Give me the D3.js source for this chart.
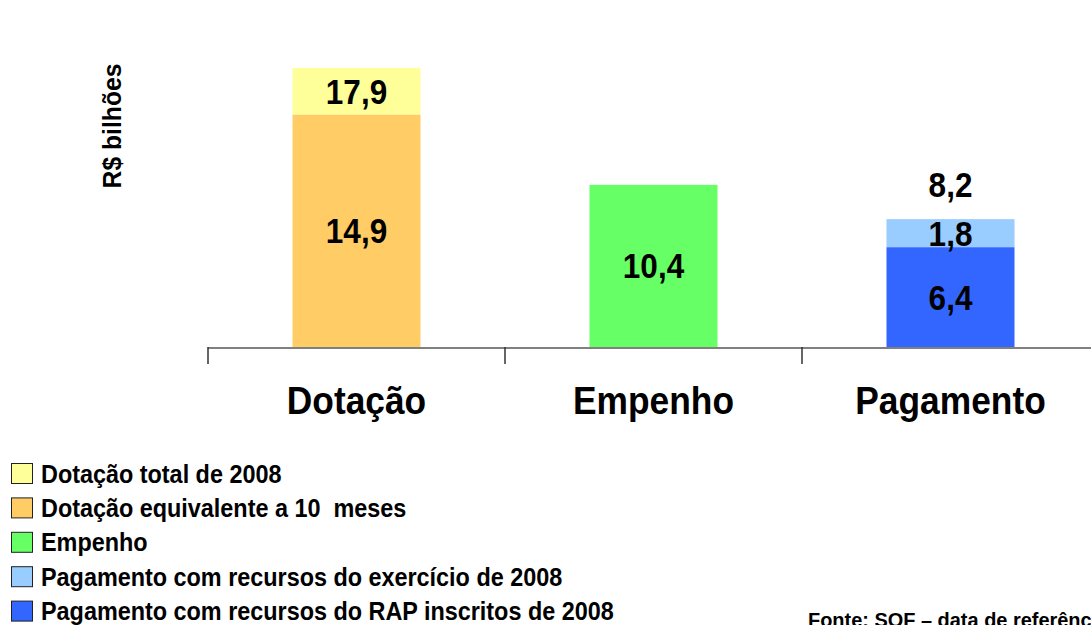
<!DOCTYPE html>
<html>
<head>
<meta charset="utf-8">
<script src="https://cdn.jsdelivr.net/npm/d3@7"></script>
<style>
    body { margin: 0; background: #fff; }
    text { font-family: "Liberation Sans", Arial, sans-serif; font-weight: bold; fill: #000; white-space: pre; }
</style>
</head>
<body>
<div id="chart"></div>
<script>
// Categories and stacked segments (R$ bilhões)
const categories = ["Dotação", "Empenho", "Pagamento"];
const seriesNames = [
    "Dotação total de 2008",
    "Dotação equivalente a 10  meses",
    "Empenho",
    "Pagamento com recursos do exercício de 2008",
    "Pagamento com recursos do RAP inscritos de 2008"
];
const seriesColors = ["#FFFF99", "#FFCC66", "#66FF66", "#99CCFF", "#3366FF"];
// one entry per stacked segment
const segCategory = ["Dotação", "Dotação", "Empenho", "Pagamento", "Pagamento"];
const segStart = [14.9, 0, 0, 6.4, 0];
const segEnd = [17.9, 14.9, 10.4, 8.2, 6.4];
const segLabels = ["17,9", "14,9", "10,4", "1,8", "6,4"];
const totalCategory = ["Pagamento"];
const totalValues = [8.2];
const totalLabels = ["8,2"];

const width = 1091, height = 625;
const baseY = 347;

const svg = d3.select("#chart")
    .append("svg")
    .attr("width", width)
    .attr("height", height);

const x = d3.scaleBand()
    .domain(categories)
    .range([208, 1099])
    .padding(0);

const y = d3.scaleLinear()
    .domain([0, 22])
    .range([baseY, 4]);

// text squeezed horizontally a bit, like the original slide font
function squeezed(parent, px, py, str, size, sx, anchor, rotate) {
    const g = parent.append("g")
        .attr("transform", `translate(${px},${py})` + (rotate ? ` rotate(${rotate})` : "") + ` scale(${sx},1)`);
    return g.append("text")
        .attr("text-anchor", anchor || "start")
        .attr("xml:space", "preserve")
        .style("font-size", size + "px")
        .text(str);
}

const barWidth = 128;
const segments = segStart.map((s, i) => ({
    cat: segCategory[i], start: s, end: segEnd[i], label: segLabels[i], color: seriesColors[i]
}));

// Bars
svg.selectAll("rect.seg")
    .data(segments)
    .enter()
    .append("rect")
    .attr("class", "seg")
    .attr("x", d => x(d.cat) + x.bandwidth() / 2 - barWidth / 2)
    .attr("y", d => y(d.end))
    .attr("width", barWidth)
    .attr("height", d => y(d.start) - y(d.end))
    .attr("fill", d => d.color);

// Segment labels
segments.forEach(d => {
    squeezed(svg, x(d.cat) + x.bandwidth() / 2, (y(d.start) + y(d.end)) / 2 + 12.5, d.label, 35, 0.9, "middle");
});

// Total label above Pagamento
totalValues.forEach((v, i) => {
    squeezed(svg, x(totalCategory[i]) + x.bandwidth() / 2, y(v) - 22, totalLabels[i], 35, 0.9, "middle");
});

// Axis line and ticks at band boundaries
svg.append("line")
    .attr("x1", 208).attr("x2", width)
    .attr("y1", baseY + 1).attr("y2", baseY + 1)
    .attr("stroke", "#808080")
    .attr("stroke-width", 2);

const tickX = categories.map(c => x(c)).concat([x.range()[1]]);
svg.selectAll("line.tick")
    .data(tickX)
    .enter()
    .append("line")
    .attr("x1", d => d).attr("x2", d => d)
    .attr("y1", baseY).attr("y2", baseY + 17)
    .attr("stroke", "#333")
    .attr("stroke-width", 1.5);

// Category labels
categories.forEach(c => {
    squeezed(svg, x(c) + x.bandwidth() / 2, 414, c, 38, 0.93, "middle");
});

// Y axis title
squeezed(svg, 121, 126, "R$ bilhões", 26, 0.95, "middle", -90);

// Legend
const legend = svg.append("g")
    .attr("transform", "translate(11,463)");

legend.selectAll("rect")
    .data(seriesNames)
    .enter()
    .append("rect")
    .attr("x", 0.5)
    .attr("y", (d, i) => i * 34.4 + 0.5)
    .attr("width", 21)
    .attr("height", 20)
    .attr("fill", (d, i) => seriesColors[i])
    .attr("stroke", "#222")
    .attr("stroke-width", 1);

seriesNames.forEach((name, i) => {
    squeezed(legend, 30, i * 34.4 + 19.5, name, 26, 0.9, "start");
});

// Source note, running off the page edge as in the original
squeezed(svg, 808, 627, "Fonte: SOF – data de referência", 21, 0.95, "start");
</script>
</body>
</html>
